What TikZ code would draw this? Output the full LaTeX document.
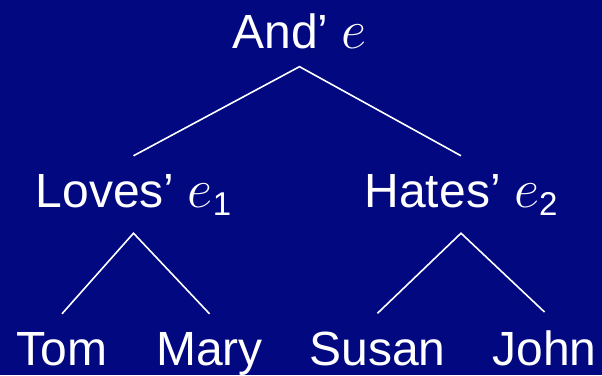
\documentclass[tikz,border=0pt]{standalone}
\usepackage{fix-cm}
\usepackage{fontspec}
\setmainfont{Liberation Sans}
\usepackage{xcolor}
\usepackage{tikz}

\definecolor{slideblue}{RGB}{2,8,128}
\newcommand{\evar}{{\fontsize{55}{60}\selectfont$e$}}
\newcommand{\lowdigit}[1]{\raisebox{-8pt}{\fontsize{33}{40}\selectfont #1}}

\begin{document}
\begin{tikzpicture}[x=1pt, y=-1pt, every node/.style={font=\fontsize{48}{56}\selectfont}]
    % Styles
    \tikzstyle{word} = [text=white, inner sep=18pt, anchor=base]
    \tikzstyle{branch} = [draw=white, line width=1.6pt]

    % Background
    \useasboundingbox (0,0) rectangle (602,375);
    \fill[slideblue] (0,0) rectangle (602,375);

    % Nodes
    \node[word] (and) at (299.5,48) {And' \evar};

    \node[word] (loves) at (133.5,207) {Loves' \evar\lowdigit{1}};
    \node[word] (hates) at (461,207) {Hates' \evar\lowdigit{2}};

    \node[word] (tom) at (62,365) {Tom};
    \node[word] (mary) at (209.5,365) {Mary};
    \node[word] (susan) at (377.5,365) {Susan};
    \node[word] (john) at (544.5,365) {John};

    % Connections
    \draw[branch] (loves.north) -- (and.south) -- (hates.north);
    \draw[branch] (tom.north) -- (loves.south) -- (mary.north);
    \draw[branch] (susan.north) -- (hates.south) -- (john.north);
\end{tikzpicture}
\end{document}
